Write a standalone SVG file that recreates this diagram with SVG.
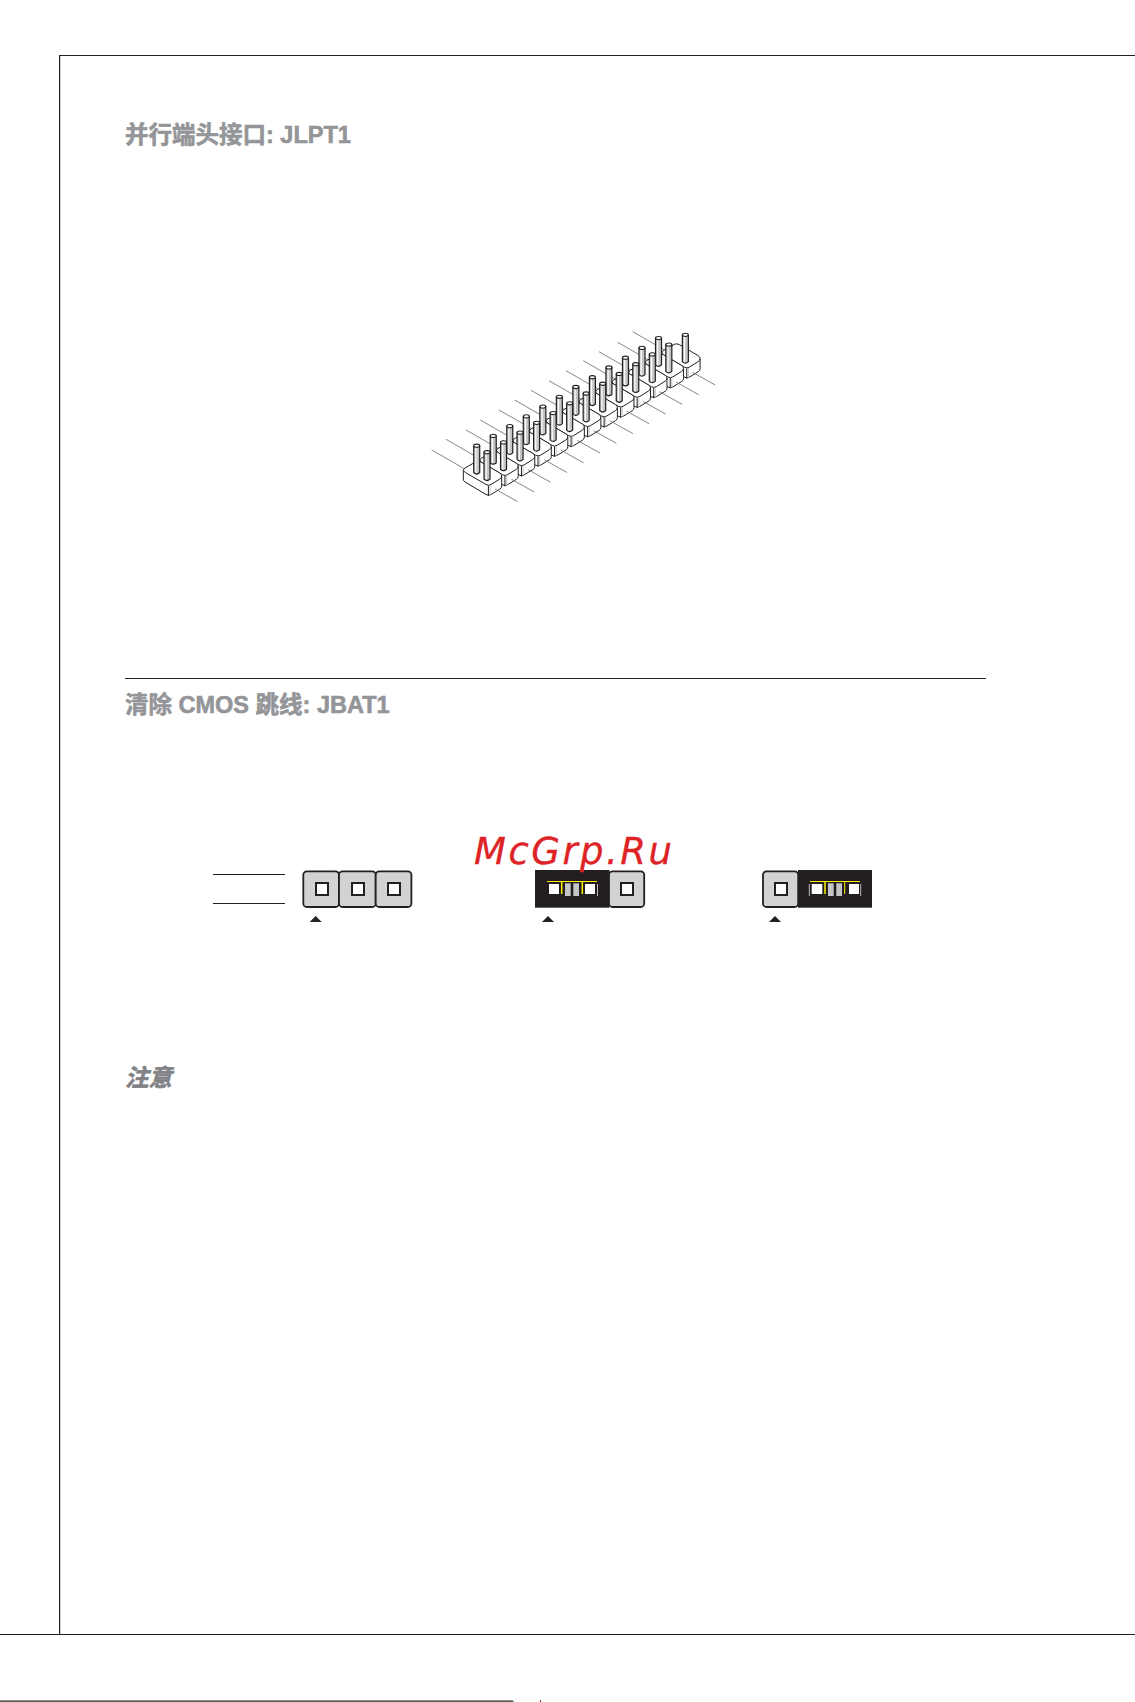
<svg xmlns="http://www.w3.org/2000/svg" width="1135" height="1702" viewBox="0 0 1135 1702">
<style>
.rule{stroke:#231f20;stroke-width:1.2;fill:none}
.h{font-family:"Liberation Sans","Noto Sans CJK SC",sans-serif;font-weight:700;font-size:23.5px;fill:#939598;stroke:#939598;stroke-width:.6}
.thin{stroke:#77787b;stroke-width:.9;fill:none}
.k{stroke:#231f20;stroke-width:1;fill:#fff;stroke-linejoin:round}
.pg{fill:#d1d2d4;stroke:#231f20;stroke-width:1.8}
.ps{fill:#fff;stroke:#231f20;stroke-width:2}
.blk{fill:#231f20}
.w{fill:#fff}
.g{fill:#c4c5c7}
.y{stroke:#fff200;fill:none}
.wl{stroke:#fff;stroke-width:.7;fill:none}
.tri{fill:#231f20}
</style>
<defs>
<line id="fl" x1="495" y1="489" x2="517.7" y2="501.7" class="thin"/>
<g id="block">
<path class="k" d="M465,468 L476,461.7 Q478.5,460.5 481,462 L499.8,473 Q501.7,474.2 501.7,476 L501.7,486 Q501.7,488 500,489 L491,494.5 Q488.5,496 486,494.5 L465,482 Q463.3,481 463.3,479 L463.3,470.5 Q463.3,469 465,468 Z"/>
<path class="k" style="fill:none" d="M463.8,470.5 Q464,471.7 465.5,472.6 L486,484.5 Q488.5,486 491,484.5 L499.8,479 Q501.5,478 501.7,476"/>
<line x1="488.4" y1="485.6" x2="488.4" y2="496" class="k"/>
<line x1="490" y1="485.4" x2="490" y2="495" stroke="#c4c5c7" stroke-width="1"/>
</g>
<g id="pin">
<path d="M484,452.5 L484,479 Q487,482 490,479 L490,452.5 Z" fill="#c4c5c7" stroke="#231f20" stroke-width="1.2"/>
<line x1="486.2" y1="453" x2="486.2" y2="479.5" stroke="#fff" stroke-width="1.2"/>
<ellipse cx="487" cy="452.2" rx="3" ry="1.6" fill="#fff" stroke="#231f20" stroke-width="1.1"/>
</g>
<path id="arrow" class="tri" d="M0,0 L6,6 L-6,6 Z"/>
</defs>

<g id="frame">
<path class="rule" d="M1135,55.5 H59.6 V1634.5"/>
<line class="rule" x1="0" y1="1634.5" x2="1135" y2="1634.5"/>
<line class="rule" x1="0" y1="1701.2" x2="513" y2="1701.2"/>
<rect x="513" y="1701" width="1" height="1" fill="#35d0d8"/>
<rect x="540" y="1700" width="1" height="2" fill="#8a2a3a"/>
<line class="rule" x1="125" y1="678.5" x2="986" y2="678.5"/>
</g>

<g id="headings">
<text class="h" x="125" y="143">并行端头接口: JLPT1</text>
<text class="h" x="125" y="713">清除 CMOS 跳线: JBAT1</text>
<text class="h" x="125" y="1086" font-style="italic" style="fill:#808285;stroke:#808285">注意</text>
</g>

<g id="header-pins">
<g id="back-leaders">
<line x1="431.7" y1="450" x2="465.7" y2="469.5" class="thin"/>
<line x1="446" y1="439.3" x2="480" y2="458.8" class="thin"/>
<line x1="466" y1="430" x2="500" y2="449.5" class="thin"/>
<line x1="480.3" y1="420" x2="514.3" y2="439.5" class="thin"/>
<line x1="499" y1="410" x2="533" y2="429.5" class="thin"/>
<line x1="514.7" y1="400" x2="548.7" y2="419.5" class="thin"/>
<line x1="531" y1="390.3" x2="565" y2="409.8" class="thin"/>
<line x1="549" y1="380.7" x2="583" y2="400.2" class="thin"/>
<line x1="566" y1="370.7" x2="600" y2="390.2" class="thin"/>
<line x1="583.3" y1="360.7" x2="617.3" y2="380.2" class="thin"/>
<line x1="599" y1="351.7" x2="633" y2="371.2" class="thin"/>
<line x1="617.7" y1="342.3" x2="651.7" y2="361.8" class="thin"/>
<line x1="632.7" y1="331.7" x2="666.7" y2="351.2" class="thin"/>
</g>
<g id="pin-13"><use href="#block" transform="translate(198.36 -117.36)"/><use href="#pin" transform="translate(198.36 -117.36)"/></g>
<g id="pin-12"><use href="#block" transform="translate(181.83 -107.58)"/><use href="#pin" transform="translate(171.53 -114.08)"/><use href="#pin" transform="translate(181.83 -107.58)"/></g>
<g id="pin-11"><use href="#block" transform="translate(165.3 -97.8)"/><use href="#pin" transform="translate(155 -104.3)"/><use href="#pin" transform="translate(165.3 -97.8)"/></g>
<g id="pin-10"><use href="#block" transform="translate(148.77 -88.02)"/><use href="#pin" transform="translate(138.47 -94.52)"/><use href="#pin" transform="translate(148.77 -88.02)"/></g>
<g id="pin-9"><use href="#block" transform="translate(132.24 -78.24)"/><use href="#pin" transform="translate(121.94 -84.74)"/><use href="#pin" transform="translate(132.24 -78.24)"/></g>
<g id="pin-8"><use href="#block" transform="translate(115.71 -68.46)"/><use href="#pin" transform="translate(105.41 -74.96)"/><use href="#pin" transform="translate(115.71 -68.46)"/></g>
<g id="pin-7"><use href="#block" transform="translate(99.18 -58.68)"/><use href="#pin" transform="translate(88.88 -65.18)"/><use href="#pin" transform="translate(99.18 -58.68)"/></g>
<g id="pin-6"><use href="#block" transform="translate(82.65 -48.9)"/><use href="#pin" transform="translate(72.35 -55.4)"/><use href="#pin" transform="translate(82.65 -48.9)"/></g>
<g id="pin-5"><use href="#block" transform="translate(66.12 -39.12)"/><use href="#pin" transform="translate(55.82 -45.62)"/><use href="#pin" transform="translate(66.12 -39.12)"/></g>
<g id="pin-4"><use href="#block" transform="translate(49.59 -29.34)"/><use href="#pin" transform="translate(39.29 -35.84)"/><use href="#pin" transform="translate(49.59 -29.34)"/></g>
<g id="pin-3"><use href="#block" transform="translate(33.06 -19.56)"/><use href="#pin" transform="translate(22.76 -26.06)"/><use href="#pin" transform="translate(33.06 -19.56)"/></g>
<g id="pin-2"><use href="#block" transform="translate(16.53 -9.78)"/><use href="#pin" transform="translate(6.23 -16.28)"/><use href="#pin" transform="translate(16.53 -9.78)"/></g>
<g id="pin-1"><use href="#block"/><use href="#pin" transform="translate(-10.3 -6.5)"/><use href="#pin"/></g>
<g id="front-leaders">
<use href="#fl"/>
<use href="#fl" transform="translate(16.45 -9.73)"/>
<use href="#fl" transform="translate(32.9 -19.46)"/>
<use href="#fl" transform="translate(49.35 -29.19)"/>
<use href="#fl" transform="translate(65.8 -38.92)"/>
<use href="#fl" transform="translate(82.25 -48.65)"/>
<use href="#fl" transform="translate(98.7 -58.38)"/>
<use href="#fl" transform="translate(115.15 -68.11)"/>
<use href="#fl" transform="translate(131.6 -77.84)"/>
<use href="#fl" transform="translate(148.05 -87.57)"/>
<use href="#fl" transform="translate(164.5 -97.3)"/>
<use href="#fl" transform="translate(180.95 -107.03)"/>
<use href="#fl" transform="translate(197.4 -116.76)"/>
</g>
</g>

<g id="jbat-open">
<line class="rule" x1="213" y1="874.5" x2="285" y2="874.5"/>
<line class="rule" x1="213" y1="903.5" x2="285" y2="903.5"/>
<rect class="pg" x="303.3" y="871.3" width="35.7" height="35.7" rx="3.5"/>
<rect class="pg" x="339" y="871.3" width="36.7" height="35.7" rx="3.5"/>
<rect class="pg" x="375.7" y="871.3" width="35.7" height="35.7" rx="3.5"/>
<rect class="ps" x="316" y="883" width="12" height="12"/>
<rect class="ps" x="352" y="883" width="12" height="12"/>
<rect class="ps" x="388" y="883" width="12" height="12"/>
<use href="#arrow" transform="translate(315.7 916)"/>
</g>

<g id="jbat-keep">
<rect class="blk" x="535" y="870" width="74.5" height="37.7"/>
<rect class="pg" x="609" y="871.3" width="35.2" height="35.7" rx="3.5"/>
<rect class="ps" x="621" y="883" width="12" height="12"/>
<rect class="w" x="549" y="884" width="10" height="10"/>
<rect class="g" x="565" y="883.3" width="5.7" height="12.7"/>
<rect class="g" x="573.3" y="883.3" width="5.7" height="12.7"/>
<rect class="w" x="585" y="884" width="10" height="10"/>
<path class="y" stroke-width="1" d="M547,881.5 H597"/>
<path class="y" stroke-width="1.5" d="M561.7,881.5 V894 M582.3,881.5 V894"/>
<path class="wl" d="M597.5,884 V896"/>
<use href="#arrow" transform="translate(548 916)"/>
</g>

<g id="jbat-clear">
<rect class="blk" x="798" y="870" width="74" height="37.7"/>
<rect class="pg" x="763" y="871.3" width="35.2" height="35.7" rx="3.5"/>
<rect class="ps" x="775" y="883" width="12" height="12"/>
<rect class="w" x="811.7" y="884" width="10.6" height="10"/>
<rect class="g" x="828" y="883.3" width="5.7" height="12.7"/>
<rect class="g" x="836.3" y="883.3" width="5.7" height="12.7"/>
<rect class="w" x="849" y="884" width="10" height="10"/>
<path class="y" stroke-width="1" d="M810,881.5 H860"/>
<path class="y" stroke-width="1.5" d="M825,881.5 V894"/>
<path class="y" stroke-width="1" d="M844.7,881.5 V894"/>
<path class="wl" d="M809.3,884 V896 M860.7,884 V896"/>
<use href="#arrow" transform="translate(775 916)"/>
</g>

<text id="watermark" x="474" y="864" font-family="DejaVu Sans, sans-serif" font-style="oblique" font-size="37" fill="#dd2326" stroke="#dd2326" stroke-width=".3" textLength="198" lengthAdjust="spacing">McGrp.Ru</text>
</svg>
